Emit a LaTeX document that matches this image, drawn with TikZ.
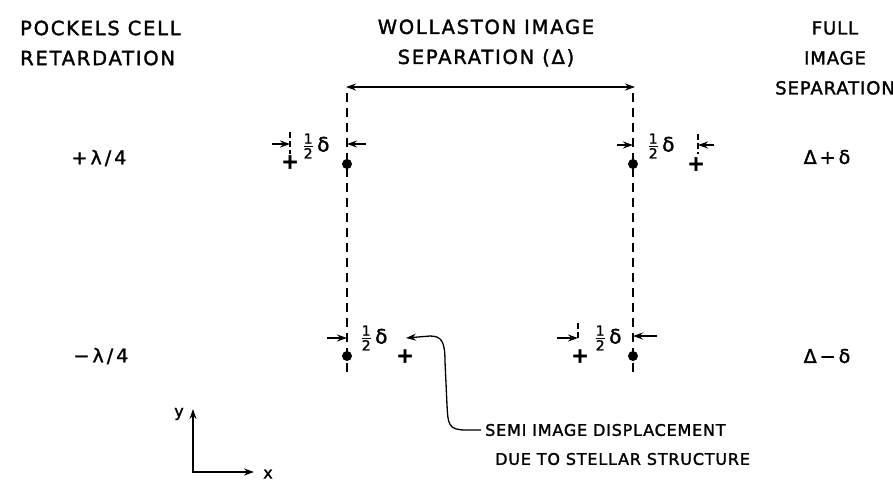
\RequirePackage{fix-cm}
\documentclass[tikz,border=0pt]{standalone}
\usepackage{amsmath}
\usepackage{fontspec}
\setmainfont{DejaVu Sans}[FakeBold=1.6, LetterSpace=5]
\usepackage{tikz}
\usetikzlibrary{arrows.meta}

\begin{document}
\begin{tikzpicture}[
  x=1pt, y=-1pt,
  font=\fontsize{16}{19}\selectfont,
  hd/.style={font=\fontsize{19.5}{30}\selectfont\addfontfeatures{LetterSpace=9}, inner sep=0pt},
  hdr/.style={font=\fontsize{18}{30}\selectfont, inner sep=0pt},
  rl/.style={font=\fontsize{19}{19}\selectfont\addfontfeatures{LetterSpace=16}, inner sep=0pt},
  half/.style={font=\fontsize{20}{20}\selectfont, inner sep=0pt},
  note/.style={anchor=west, inner sep=0pt},
  a/.style={-{Stealth[length=10pt,width=7pt]}, line width=1.6pt},
  aa/.style={a, {Stealth[length=10pt,width=7pt]}-{Stealth[length=10pt,width=7pt]}},
  guide/.style={line width=1.5pt, dash pattern=on 9pt off 6pt},
  tk/.style={line width=1.4pt, dash pattern=on 6pt off 3pt},
  img/.style={circle, fill, inner sep=0pt, minimum size=10pt},
  star/.style={font=\fontsize{21}{21}\selectfont\bfseries, inner sep=0pt}
]
\useasboundingbox (0,0) rectangle (893,483);

\node[hd, align=left, anchor=west] (pockels) at (20,43) {POCKELS CELL\\RETARDATION};
\node[hd, align=center] (woll) at (486,43) {WOLLASTON IMAGE\\SEPARATION (Δ)};
\node[hdr, align=center] (full) at (835,58) {FULL\\IMAGE\\SEPARATION};

\node[rl] (rowP) at (99,158) {+λ/4};
\node[rl] (rowM) at (101,356) {−λ/4};
\node[rl] (sumP) at (827,157) {Δ+δ};
\node[rl] (sumM) at (827,356) {Δ−δ};

\coordinate (sepL) at (346,87);
\coordinate (sepR) at (635,87);
\coordinate (gLtop) at (347,93);
\coordinate (gLbot) at (347,375);
\coordinate (gRtop) at (633,93);
\coordinate (gRbot) at (633,375);

\coordinate (tkLT) at (290,144);
\coordinate (tkRT) at (698,145);
\coordinate (tkRB) at (578,338);
\coordinate (gLT) at (347,144);
\coordinate (gRT) at (633,145);
\coordinate (gLB) at (347,338);
\coordinate (gRB) at (633,336);
\coordinate (tipLB) at (406,338);

\draw[aa] (sepL) -- (sepR);
\draw[guide] (gLtop) -- (gLbot);
\draw[guide] (gRtop) -- (gRbot);

\node[img] (dLT) at (347,164) {};
\node[img] (dRT) at (633,164) {};
\node[img] (dLB) at (347,356) {};
\node[img] (dRB) at (633,356) {};

\node[star] (pLT) at (290,162) {+};
\node[star] (pRT) at (696,164) {+};
\node[star] (pLB) at (405,356) {+};
\node[star] (pRB) at (580,356) {+};

\node[half] (hLT) at (316,146) {$\frac{\text{1}}{\text{2}}$\,δ};
\node[half] (hRT) at (661,146) {$\frac{\text{1}}{\text{2}}$\,δ};
\node[half] (hLB) at (374,338) {$\frac{\text{1}}{\text{2}}$\,δ};
\node[half] (hRB) at (608,338) {$\frac{\text{1}}{\text{2}}$\,δ};

\draw[tk] ([yshift=12pt]tkLT) -- ([yshift=-10pt]tkLT);
\draw[a] ([xshift=-18pt]tkLT) -- (tkLT);
\draw[a] ([xshift=19pt]gLT) -- (gLT);
\draw[a] ([xshift=-16pt]gRT) -- (gRT);
\draw[tk] ([yshift=11pt]tkRT) -- ([yshift=-9pt]tkRT);
\draw[a] ([xshift=16pt]tkRT) -- (tkRT);
\draw[a] ([xshift=-20pt]gLB) -- (gLB);
\draw[tk] ([yshift=15pt]tkRB) -- ([yshift=-3pt]tkRB);
\draw[a] ([xshift=-21pt]tkRB) -- (tkRB);
\draw[a] ([xshift=24pt]gRB) -- (gRB);

\node[note] (semi) at (485,430) {SEMI IMAGE DISPLACEMENT};
\node[note] (due) at (495,459) {DUE TO STELLAR STRUCTURE};
\draw[a, line width=1.3pt] ([xshift=-4pt]semi.west) -- (466,430) .. controls (448,430) and (448,424) .. (447,405) -- (445,362) .. controls (445,342) and (442,336) .. (430,336) -- (tipLB);

\coordinate (axY) at (193,409);
\coordinate (axX) at (254,472);
\draw[aa, line join=miter] (axY) |- (axX);
\node (ylab) at (179,414) {y};
\node (xlab) at (268,474) {x};
\end{tikzpicture}
\end{document}
